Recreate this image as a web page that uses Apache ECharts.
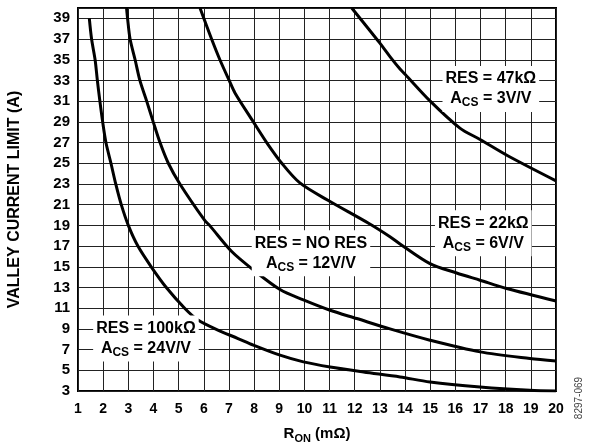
<!DOCTYPE html>
<html>
<head>
<meta charset="utf-8">
<script src="https://cdn.jsdelivr.net/npm/echarts@6/dist/echarts.min.js"></script>
<style>
  html, body { margin: 0; padding: 0; background: #fff; }
  #chart { width: 593px; height: 444px; }
</style>
</head>
<body>
<div id="chart"></div>
<script>
// values, [R_ON (mOhm), current (A)]
const curve24 = [[1.45, 39], [1.54, 37], [1.68, 35], [1.77, 33], [1.87, 31], [1.98, 29], [2.11, 27], [2.31, 25], [2.5, 23], [2.72, 21], [3.0, 19], [3.38, 17], [3.91, 15], [4.51, 13], [5.24, 11], [5.77, 9.85], [6.56, 8.88], [7.36, 8.07], [7.97, 7.43], [9.03, 6.46], [9.96, 5.81], [11.02, 5.32], [12.35, 4.84], [13.8, 4.36], [14.99, 3.87], [16.98, 3.39], [18.96, 3.07], [20, 3.0]]
const curve12 = [[2.93, 40], [2.97, 39], [3.07, 37], [3.27, 35], [3.46, 33], [3.73, 31], [3.99, 29], [4.26, 27], [4.59, 25], [5.05, 23], [6.03, 19.5], [6.23, 19], [7.1, 16.5], [7.97, 14.7], [9.03, 12.8], [9.96, 11.8], [11.02, 10.8], [12.08, 10.0], [13.4, 9.0], [14.99, 7.91], [16.98, 6.78], [18.96, 6.14], [20, 5.9]]
const curve6 = [[5.85, 40], [6.31, 37], [6.64, 35], [7.01, 33], [7.24, 31.8], [7.97, 29], [8.5, 27], [9.1, 25], [9.82, 23.1], [10.95, 21.4], [12.55, 19.2], [13.4, 17.9], [13.8, 17.2], [14.99, 15.3], [16.05, 14.4], [16.98, 13.7], [18.04, 12.9], [20, 11.7]]
const curve3 = [[11.88, 40], [13.0, 36.6], [13.4, 35.3], [13.8, 34.1], [14.0, 33.6], [15.0, 31.0], [16.18, 28.4], [16.98, 27.3], [18.1, 25.7], [20, 23.3]]

const curves = [curve24, curve12, curve6, curve3]
const resNames = ['100kΩ', 'NO RES', '22kΩ', '47kΩ']
const gains = ['24V/V', '12V/V', '6V/V', '3V/V']
// where each note box sits, in chart units
const notePos = [[3.7, 8.06], [10.26, 16.31], [17.11, 18.24], [17.41, 32.17]]

const xMin = 1, xMax = 20
const yMin = 3, yMax = 40

const font = 'Liberation Sans'

const chart = echarts.init(document.getElementById('chart'))

const series = curves.map((c, i) => ({
  type: 'line',
  data: c,
  showSymbol: false,
  smooth: 0.3,
  lineStyle: { color: '#000', width: 3 },
  markPoint: {
    symbol: 'circle',
    symbolSize: 1,
    itemStyle: { color: 'transparent' },
    data: [{
      coord: notePos[i],
      label: {
        show: true,
        position: 'inside',
        formatter: '{m|RES = ' + resNames[i] + '}\n{m|A}{s|CS}{m| = ' + gains[i] + '}',
        backgroundColor: '#fff',
        padding: [3, 3, 3, 3],
        rich: {
          m: { fontFamily: font, fontWeight: 'bold', fontSize: 16, color: '#000', lineHeight: 20 },
          s: { fontFamily: font, fontWeight: 'bold', fontSize: 12, color: '#000', lineHeight: 11, verticalAlign: 'bottom' }
        }
      }
    }]
  }
}))

const option = {
  animation: false,
  grid: {
    left: 78,
    right: 37,
    top: 8,
    bottom: 53,
    containLabel: false,
    outerBoundsMode: 'none',
    show: true,
    borderColor: '#000',
    borderWidth: 2
  },
  xAxis: {
    type: 'value',
    min: xMin,
    max: xMax,
    interval: 1,
    name: '{m|R}{s|ON}{m| (mΩ)}',
    nameLocation: 'middle',
    nameGap: 33,
    nameTextStyle: {
      rich: {
        m: { fontFamily: font, fontWeight: 'bold', fontSize: 15, color: '#000', lineHeight: 20 },
        s: { fontFamily: font, fontWeight: 'bold', fontSize: 11, color: '#000', lineHeight: 11, verticalAlign: 'bottom' }
      }
    },
    axisLine: { show: false },
    axisTick: { show: false },
    axisLabel: { fontFamily: font, fontWeight: 'bold', fontSize: 14, color: '#000', margin: 11 },
    splitLine: { lineStyle: { color: '#222', width: 1 } }
  },
  yAxis: {
    type: 'value',
    min: yMin,
    max: yMax,
    interval: 2,
    name: 'VALLEY CURRENT LIMIT (A)',
    nameLocation: 'middle',
    nameRotate: 90,
    nameGap: 55,
    nameTextStyle: { fontFamily: font, fontWeight: 'bold', fontSize: 16, color: '#000' },
    axisLine: { show: false },
    axisTick: { show: false },
    axisLabel: {
      fontFamily: font, fontWeight: 'bold', fontSize: 15, color: '#000', margin: 8,
      showMaxLabel: false
    },
    splitLine: { lineStyle: { color: '#222', width: 1 } }
  },
  graphic: [{
    type: 'text',
    x: 579,
    y: 398,
    rotation: Math.PI / 2,
    style: {
      text: '8297-069',
      fontFamily: font,
      fontSize: 10,
      fill: '#444',
      align: 'center',
      verticalAlign: 'middle'
    }
  }],
  series
}

chart.setOption(option)
</script>
</body>
</html>
